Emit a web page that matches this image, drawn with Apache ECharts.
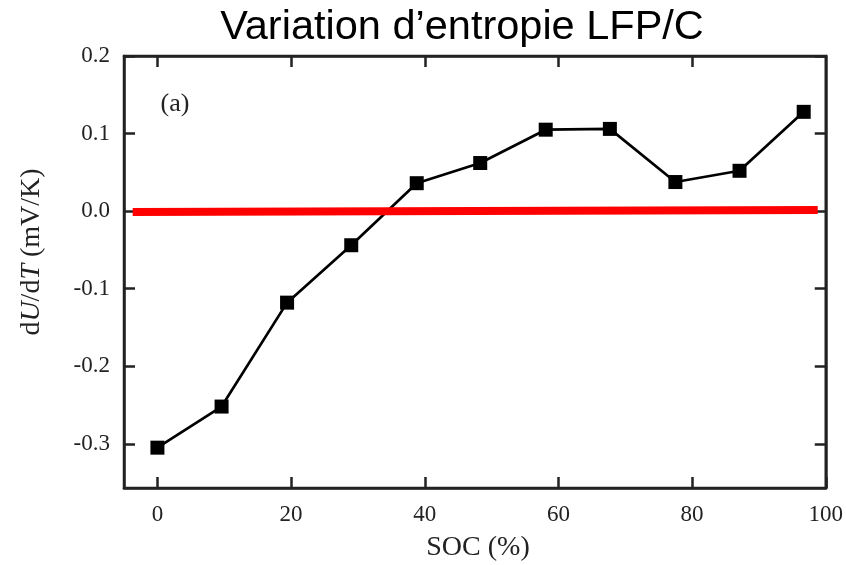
<!DOCTYPE html>
<html>
<head>
<meta charset="utf-8">
<script src="https://cdn.jsdelivr.net/npm/echarts@6/dist/echarts.min.js"></script>
<style>html,body{margin:0;padding:0;background:#fff}#c{width:846px;height:565px}</style>
</head>
<body>
<div id="c"></div>
<script>
const titleText = 'Variation d’entropie LFP/C';
const xAxisTitle = 'SOC (%)';
const yAxisTitle = '{n|d}{i|U}{n|/d}{i|T}{n| (mV/K)}';
const socValues = [0, 9.6, 19.4, 29.0, 38.8, 48.3, 58.1, 67.7, 77.5, 87.1, 96.7];
const dudtValues = [-0.305, -0.252, -0.118, -0.044, 0.036, 0.062, 0.105, 0.106, 0.0375, 0.052, 0.128];
const redLineX = [-3.7, 98.8];
const redLineY = [-0.0013, 0.0013];
const xTicks = [0, 20, 40, 60, 80, 100];
const xTopTicks = [0, 20, 40, 60, 80];
const yTicks = [-0.3, -0.2, -0.1, 0.0, 0.1, 0.2];
const panelLabel = '(a)';

const serif = 'Liberation Serif';
const txt = '#222';
const chart = echarts.init(document.getElementById('c'), null, {renderer: 'canvas'});
const axisLineStyle = {color: '#222', width: 2.5};
const tickStyle = {show: true, inside: true, length: 11, lineStyle: {color: '#222', width: 2.5}};

chart.setOption({
  animation: false,
  backgroundColor: '#fff',
  graphic: [
    {type: 'text', x: 462, y: 28, style: {text: titleText, fontFamily: 'Liberation Sans', fontSize: 41.5, fill: '#000', textAlign: 'center', textVerticalAlign: 'middle'}},
    {type: 'text', x: 175, y: 104, style: {text: panelLabel, fontFamily: serif, fontSize: 26, fill: txt, textAlign: 'center', textVerticalAlign: 'middle'}},
    {type: 'text', x: 478, y: 548, style: {text: xAxisTitle, fontFamily: serif, fontSize: 28, fill: txt, textAlign: 'center', textVerticalAlign: 'middle'}},
    {type: 'text', x: 32, y: 252, rotation: Math.PI / 2,
     style: {text: yAxisTitle, fontFamily: serif, fontSize: 28, fill: txt, textAlign: 'center', textVerticalAlign: 'middle',
       rich: {n: {fontFamily: serif, fontSize: 28, fill: txt}, i: {fontFamily: serif, fontStyle: 'italic', fontSize: 28, fill: txt}}}}
  ],
  grid: {left: 124, right: 16, top: 56, bottom: 77, show: true, borderColor: '#222', borderWidth: 2.5},
  xAxis: [
    {type: 'value', min: -5, max: 100, position: 'bottom',
     axisLine: {show: true, onZero: false, lineStyle: axisLineStyle},
     axisTick: Object.assign({customValues: xTicks}, tickStyle),
     axisLabel: {customValues: xTicks, margin: 15, fontFamily: serif, fontSize: 23, color: txt},
     splitLine: {show: false}},
    {type: 'value', min: -5, max: 100, position: 'top',
     axisLine: {show: true, onZero: false, lineStyle: axisLineStyle},
     axisTick: Object.assign({customValues: xTopTicks}, tickStyle),
     axisLabel: {show: false}, splitLine: {show: false}}
  ],
  yAxis: [
    {type: 'value', min: -0.357, max: 0.2, position: 'left',
     axisLine: {show: true, onZero: false, lineStyle: axisLineStyle},
     axisTick: Object.assign({customValues: yTicks}, tickStyle),
     axisLabel: {customValues: yTicks, margin: 14, fontFamily: serif, fontSize: 23, color: txt,
       formatter: v => v.toFixed(1)},
     splitLine: {show: false}},
    {type: 'value', min: -0.357, max: 0.2, position: 'right',
     axisLine: {show: true, onZero: false, lineStyle: axisLineStyle},
     axisTick: Object.assign({customValues: yTicks}, tickStyle),
     axisLabel: {show: false}, splitLine: {show: false}}
  ],
  series: [
    {type: 'line', xAxisIndex: 0, yAxisIndex: 0, z: 3,
     data: socValues.map((x, i) => [x, dudtValues[i]]),
     lineStyle: {color: '#000', width: 2.7}, itemStyle: {color: '#000'},
     symbol: 'rect', symbolSize: 14, showSymbol: true},
    {type: 'line', xAxisIndex: 0, yAxisIndex: 0, z: 4,
     data: redLineX.map((x, i) => [x, redLineY[i]]),
     lineStyle: {color: '#ff0000', width: 8}, symbol: 'none'}
  ]
});
</script>
</body>
</html>
